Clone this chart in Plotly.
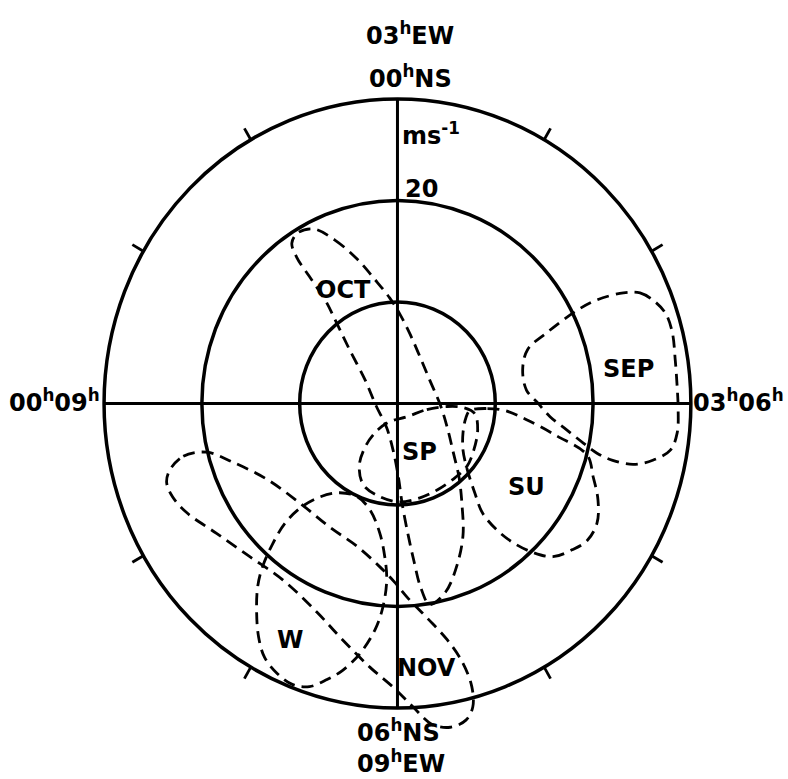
import math
import plotly.graph_objects as go

# Speed rings (m/s) and hour-tick bearings (degrees clockwise from north)
ring_speeds = [10, 20, 30]
tick_bearings = [30, 60, 120, 150, 210, 240, 300, 330]

# Hodograph loops: eastward (u) and northward (v) wind components, m/s
oct_u = [-8.6, -6.4, -4.1, -2.3, -0.8, 0.3, 1.3, 2.3, 3.3, 4.4, 5.1, 5.7, 6.3, 6.6, 6.7, 6.1,
         4.9, 3.3, 2.4, 1.7, 1.1, 0.5, 0.1, -0.4, -1.1, -2.2, -3.3, -4.9, -6.2, -7.4, -9.0,
         -10.3, -10.8, -10.2]
oct_v = [17.2, 16.1, 14.2, 12.2, 10.4, 8.7, 6.8, 4.6, 2.3, -0.2, -2.4, -4.8, -7.3, -10.0, -13.0,
         -15.9, -18.6, -19.8, -18.2, -15.6, -13.0, -10.0, -7.3, -4.8, -2.4, -0.2, 2.3, 5.3, 7.9,
         10.2, 12.5, 14.4, 15.8, 16.8]

sep_u = [23.1, 24.8, 26.1, 27.4, 28.1, 28.4, 28.6, 28.7, 28.6, 27.9, 26.1, 24.1, 22.0, 20.4,
         19.0, 17.3, 15.6, 14.3, 13.2, 12.8, 13.3, 15.3, 18.4, 20.4]
sep_v = [10.9, 10.9, 10.2, 8.9, 7.0, 4.3, 1.6, -0.6, -2.9, -4.6, -5.6, -6.0, -5.6, -4.9, -3.9,
         -2.6, -1.3, 0.1, 1.3, 3.3, 5.3, 7.0, 9.2, 10.2]

su_u = [7.4, 9.2, 11.0, 13.2, 16.3, 19.4, 20.0, 20.5, 20.4, 19.4, 17.9, 15.9, 13.9, 11.8, 10.2,
        8.7, 7.9, 7.1, 6.7, 6.7, 7.0]
su_v = [-0.7, -0.5, -0.7, -1.6, -3.2, -5.1, -7.2, -9.5, -11.8, -13.5, -14.4, -15.1, -14.7,
        -13.7, -12.5, -10.8, -8.8, -6.4, -4.6, -2.9, -1.4]

sp_u = [1.0, 3.0, 5.1, 6.7, 7.9, 8.2, 7.8, 7.1, 5.9, 4.1, 2.3, 0.1, -2.0, -3.5, -3.9, -3.2,
        -2.0, -0.8]
sp_v = [-1.3, -0.6, -0.3, -0.4, -1.0, -2.6, -4.6, -6.2, -7.3, -8.5, -9.3, -9.7, -9.1, -8.0,
        -6.1, -4.1, -2.6, -1.8]

w_u = [-5.9, -4.1, -2.8, -1.8, -1.3, -1.1, -1.5, -2.3, -3.8, -5.6, -7.2, -9.0, -10.7, -12.3,
       -13.6, -14.2, -14.4, -14.3, -13.8, -12.8, -11.5, -9.8, -7.9]
w_v = [-8.8, -9.2, -10.5, -12.8, -15.1, -17.4, -20.1, -22.3, -24.6, -26.3, -27.2, -27.9, -27.7,
       -26.6, -25.0, -23.0, -20.6, -18.1, -16.1, -13.9, -11.8, -10.2, -9.2]

nov_u = [-23.3, -21.9, -19.5, -16.8, -13.3, -10.0, -6.9, -4.1, -1.8, -0.3, 1.0, 3.0, 5.1, 6.7,
         7.6, 7.7, 7.0, 5.4, 3.5, 1.6, -0.5, -2.8, -5.6, -8.2, -11.7, -15.1, -18.5, -21.5,
         -23.0, -23.6]
nov_v = [-6.6, -5.2, -4.8, -5.8, -7.5, -9.8, -12.2, -14.1, -16.1, -17.6, -19.1, -21.1, -23.3,
         -25.6, -27.9, -29.9, -31.2, -31.9, -31.6, -29.9, -27.9, -26.0, -23.3, -20.6, -17.4,
         -15.1, -12.8, -10.8, -9.2, -7.8]

loops = [
    ("OCT", oct_u, oct_v, -5.5, 11.2),
    ("SEP", sep_u, sep_v, 23.6, 3.4),
    ("SU", su_u, su_v, 13.2, -8.2),
    ("SP", sp_u, sp_v, 2.3, -4.8),
    ("W", w_u, w_v, -11.0, -23.3),
    ("NOV", nov_u, nov_v, 3.0, -26.1),
]

INK = "black"
FONT = dict(family="DejaVu Sans", size=24, color=INK, weight="bold")

fig = go.Figure()

for name, u, v, lx, ly in loops:
    fig.add_trace(go.Scatter(
        x=u + u[:1], y=v + v[:1], mode="lines", name=name,
        line=dict(color=INK, width=2.8, dash="12px,7px", shape="spline", smoothing=1.0),
        hoverinfo="skip", showlegend=False,
    ))
    fig.add_annotation(x=lx, y=ly, text=name, showarrow=False, font=FONT)

shapes = []
for r in ring_speeds:
    shapes.append(dict(type="circle", xref="x", yref="y", x0=-r, y0=-r, x1=r, y1=r,
                       line=dict(color=INK, width=3.5)))
r_out = max(ring_speeds)
shapes.append(dict(type="line", xref="x", yref="y", x0=-r_out, y0=0, x1=r_out, y1=0,
                   line=dict(color=INK, width=3)))
shapes.append(dict(type="line", xref="x", yref="y", x0=0, y0=-r_out, x1=0, y1=r_out,
                   line=dict(color=INK, width=3)))

for b in tick_bearings:
    s, c = math.sin(math.radians(b)), math.cos(math.radians(b))
    shapes.append(dict(type="line", xref="x", yref="y",
                       x0=r_out * s, y0=r_out * c, x1=(r_out + 1.3) * s, y1=(r_out + 1.3) * c,
                       line=dict(color=INK, width=2.8)))

labels = [
    ("03<sup>h</sup>EW", 1.3, 36.4, "center"),
    ("00<sup>h</sup>NS", 1.3, 32.2, "center"),
    ("ms<sup>-1</sup>", 0.3, 26.5, "left"),
    ("20", 0.6, 21.1, "left"),
    ("00<sup>h</sup>09<sup>h</sup>", -30.2, 0.2, "right"),
    ("03<sup>h</sup>06<sup>h</sup>", 30.0, 0.2, "left"),
    ("06<sup>h</sup>NS", 0.1, -32.3, "center"),
    ("09<sup>h</sup>EW", 0.4, -35.3, "center"),
]
for text, x, y, anchor in labels:
    fig.add_annotation(x=x, y=y, text=text, showarrow=False, xanchor=anchor,
                       yanchor="middle", font=FONT)

fig.update_layout(
    width=788, height=779, autosize=False,
    margin=dict(l=0, r=0, t=0, b=0, pad=0),
    paper_bgcolor="white", plot_bgcolor="white",
    shapes=shapes,
    xaxis=dict(range=[-40.64, 39.93], visible=False, fixedrange=True),
    yaxis=dict(range=[-37.0, 39.75], visible=False, fixedrange=True),
)

fig.write_html("out.html")
